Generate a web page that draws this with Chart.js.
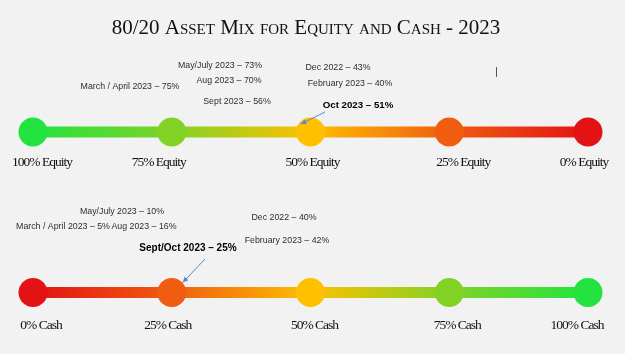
<!DOCTYPE html>
<html>
<head>
<meta charset="utf-8">
<script src="https://cdn.jsdelivr.net/npm/chart.js@4"></script>
<style>
  html, body { margin: 0; padding: 0; background: #f2f2f2; }
  canvas { display: block; }
</style>
</head>
<body>
<canvas id="mix_chart" width="625" height="354"></canvas>
<script>
// stops along both lines, as % cash (left = 0% cash = 100% equity)
const cashStops = [0, 25, 50, 75, 100];
const equityLabels = cashStops.map(c => (100 - c) + "% Equity");
const cashLabels = cashStops.map(c => c + "% Cash");

const equityMonths = ["Dec 2022", "February 2023", "March / April 2023", "May/July 2023", "Aug 2023", "Sept 2023", "Oct 2023"];
const equityValues = [43, 40, 75, 73, 70, 56, 51];
const cashMonths = ["Dec 2022", "February 2023", "March / April 2023", "May/July 2023", "Aug 2023", "Sept/Oct 2023"];
const cashValues = [40, 42, 5, 10, 16, 25];

const titleText = "80/20 Asset Mix for Equity and Cash - 2023";

// colours
const topColors = ["#22e33f", "#82d226", "#ffc000", "#f05d10", "#e31214"];
const bottomColors = topColors.slice().reverse();

// text layout (pixel centres) for the month notes
const equityNotePos = [[338, 68], [350, 84], [130, 87], [220, 66], [229, 81], [237, 102], [358, 105]];
const cashNotePos = [[284, 218], [287, 241], [63, 227], [122, 212], [144, 227], [188, 248]];
const topLabelShift = [9, -13, 2, 14, -4];
const bottomLabelShift = [8, -4, 4, 8, -11];

function gradientFor(colors) {
  return function (ctx) {
    const ca = ctx.chart.chartArea;
    if (!ca) return colors[0];
    const g = ctx.chart.ctx.createLinearGradient(ca.left, 0, ca.right, 0);
    colors.forEach((c, i) => g.addColorStop(i / (colors.length - 1), c));
    return g;
  };
}

function arrow(c, x1, y1, x2, y2) {
  c.save();
  c.strokeStyle = "#5a86d4";
  c.fillStyle = "#5a86d4";
  c.lineWidth = 1;
  c.beginPath();
  c.moveTo(x1, y1);
  c.lineTo(x2, y2);
  c.stroke();
  const a = Math.atan2(y2 - y1, x2 - x1);
  c.beginPath();
  c.moveTo(x2, y2);
  c.lineTo(x2 - 6 * Math.cos(a - 0.45), y2 - 6 * Math.sin(a - 0.45));
  c.lineTo(x2 - 6 * Math.cos(a + 0.45), y2 - 6 * Math.sin(a + 0.45));
  c.closePath();
  c.fill();
  c.restore();
}

const textPlugin = {
  id: "textPlugin",
  beforeDraw(chart) {
    const c = chart.ctx;
    c.save();
    c.fillStyle = "#f2f2f2";
    c.fillRect(0, 0, chart.width, chart.height);
    c.restore();
  },
  afterDraw(chart) {
    const c = chart.ctx;
    const xs = chart.scales.x, ys = chart.scales.y;
    c.save();

    // title
    c.fillStyle = "#111";
    c.textAlign = "center";
    c.textBaseline = "alphabetic";
    c.font = "small-caps 21px 'Liberation Serif'";
    if ("fontVariantCaps" in c) c.fontVariantCaps = "small-caps";
    c.fillText(titleText, 306, 34);
    if ("fontVariantCaps" in c) c.fontVariantCaps = "normal";

    // stop labels
    c.font = "13.5px 'Liberation Serif'";
    if ("letterSpacing" in c) c.letterSpacing = "-1px";
    c.textBaseline = "middle";
    cashStops.forEach((v, i) => {
      c.fillText(equityLabels[i], xs.getPixelForValue(v) + topLabelShift[i], ys.getPixelForValue(1) + 30);
      c.fillText(cashLabels[i], xs.getPixelForValue(v) + bottomLabelShift[i], ys.getPixelForValue(0) + 33);
    });
    if ("letterSpacing" in c) c.letterSpacing = "0px";

    // month notes
    equityMonths.forEach((m, i) => {
      const last = i === equityMonths.length - 1;
      c.font = last ? "bold 9.7px 'Liberation Sans'" : "8.8px 'Liberation Sans'";
      c.fillStyle = last ? "#000" : "#2e2e2e";
      c.fillText(m + " \u2013 " + equityValues[i] + "%", equityNotePos[i][0], equityNotePos[i][1]);
    });
    cashMonths.forEach((m, i) => {
      const last = i === cashMonths.length - 1;
      c.font = last ? "bold 10px 'Liberation Sans'" : "8.8px 'Liberation Sans'";
      c.fillStyle = last ? "#000" : "#2e2e2e";
      c.fillText(m + " \u2013 " + cashValues[i] + "%", cashNotePos[i][0], cashNotePos[i][1]);
    });

    // stray cursor mark
    c.fillStyle = "#555";
    c.fillRect(496, 67, 1, 10);

    // arrows to the current positions
    arrow(c, 325, 112, xs.getPixelForValue(100 - equityValues[6]) - 4, ys.getPixelForValue(1) - 8);
    arrow(c, 205, 259, xs.getPixelForValue(cashValues[5]) + 11, ys.getPixelForValue(0) - 10);

    c.restore();
  }
};

const config = {
  type: "line",
  data: {
    datasets: [{
      data: cashStops.map(v => ({ x: v, y: 1 })),
      borderColor: gradientFor(topColors),
      borderWidth: 11,
      pointRadius: 14.5,
      pointHoverRadius: 14.5,
      pointBorderWidth: 0,
      pointBackgroundColor: topColors,
      clip: false
    }, {
      data: cashStops.map(v => ({ x: v, y: 0 })),
      borderColor: gradientFor(bottomColors),
      borderWidth: 11,
      pointRadius: 14.5,
      pointHoverRadius: 14.5,
      pointBorderWidth: 0,
      pointBackgroundColor: bottomColors,
      clip: false
    }]
  },
  options: {
    responsive: false,
    animation: false,
    devicePixelRatio: 1,
    layout: { padding: { left: 33, right: 37, top: 132, bottom: 61.5 } },
    scales: {
      x: { type: "linear", min: 0, max: 100, display: false },
      y: { type: "linear", min: 0, max: 1, display: false }
    },
    plugins: {
      legend: { display: false },
      tooltip: { enabled: false }
    }
  },
  plugins: [textPlugin]
};

let mix_chart = new Chart("mix_chart", config);
</script>
</body>
</html>
